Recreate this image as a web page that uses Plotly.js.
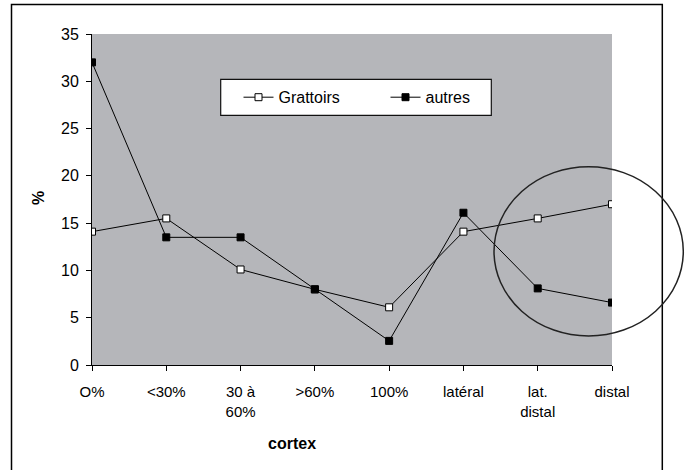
<!DOCTYPE html>
<html>
<head>
<meta charset="utf-8">
<script src="https://cdn.plot.ly/plotly-3.0.1.min.js"></script>
<style>html,body{margin:0;padding:0;background:#fff;}#chart{width:692px;height:470px;}</style>
</head>
<body>
<div id="chart"></div>
<script>
const categories = ["O%", "<30%", "30 à<br>60%", ">60%", "100%", "latéral", "lat.<br>distal", "distal"];
const grattoirs = [14.1, 15.5, 10.1, 8.0, 6.1, 14.1, 15.5, 17.0];
const autres = [32.0, 13.5, 13.5, 8.0, 2.55, 16.1, 8.1, 6.6];
const yTicks = [0, 5, 10, 15, 20, 25, 30, 35];

const font = "Liberation Sans, Arial, sans-serif";

const traces = [
  {
    x: categories, y: grattoirs, name: "Grattoirs", type: "scatter", mode: "lines+markers",
    line: {color: "#000", width: 1},
    marker: {symbol: "square", size: 7, color: "#fff", line: {color: "#000", width: 1}}
  },
  {
    x: categories, y: autres, name: "autres", type: "scatter", mode: "lines+markers",
    line: {color: "#000", width: 1},
    marker: {symbol: "square", size: 7, color: "#000", line: {color: "#000", width: 1}}
  }
];

const px = v => (v - 92) / 520;
const py = v => (365 - v) / 331;

const layout = {
  width: 692, height: 470,
  margin: {l: 92, r: 80, t: 34, b: 105},
  paper_bgcolor: "#fff",
  plot_bgcolor: "#B5B6BA",
  font: {family: font, size: 14, color: "#000"},
  showlegend: true,
  legend: {
    orientation: "h", x: px(238.5), y: py(97.3), xanchor: "left", yanchor: "middle",
    bgcolor: "rgba(0,0,0,0)", borderwidth: 0,
    font: {family: font, size: 16, color: "#000"},
    entrywidth: 102, entrywidthmode: "pixels"
  },
  xaxis: {
    type: "category", range: [0, 7], showgrid: false, zeroline: false,
    showline: true, linecolor: "#000", linewidth: 1,
    ticks: "outside", ticklen: 5, tickcolor: "#000",
    tickfont: {family: font, size: 15}, ticklabelstandoff: 8, fixedrange: true
  },
  yaxis: {
    range: [0, 35], tickvals: yTicks, showgrid: false, zeroline: false,
    showline: true, linecolor: "#000", linewidth: 1,
    ticks: "outside", ticklen: 5, tickcolor: "#000",
    tickfont: {family: font, size: 16}, ticklabelstandoff: 4, fixedrange: true
  },
  annotations: [
    {text: "<b>cortex</b>", xref: "paper", yref: "paper", x: px(292), y: py(443),
     xanchor: "center", yanchor: "middle", showarrow: false, font: {family: font, size: 16}},
    {text: "<b>%</b>", xref: "paper", yref: "paper", x: px(38), y: py(198),
     xanchor: "center", yanchor: "middle", showarrow: false, textangle: -90, font: {family: font, size: 16}}
  ],
  shapes: [
    {type: "rect", xref: "paper", yref: "paper", x0: px(11.5), x1: px(662.3),
     y0: py(480), y1: py(4.5), line: {color: "#000", width: 1.5}, layer: "below"},
    {type: "rect", xref: "paper", yref: "paper", x0: px(220.7), x1: px(491.3),
     y0: py(115.3), y1: py(79.3), fillcolor: "#fff", line: {color: "#111", width: 1.2}, layer: "above"},
    {type: "circle", xref: "paper", yref: "paper", x0: px(494), x1: px(683.3),
     y0: py(336), y1: py(166.7), line: {color: "#222", width: 1.5}}
  ]
};

Plotly.newPlot("chart", traces, layout, {displayModeBar: false, staticPlot: true});
</script>
</body>
</html>
